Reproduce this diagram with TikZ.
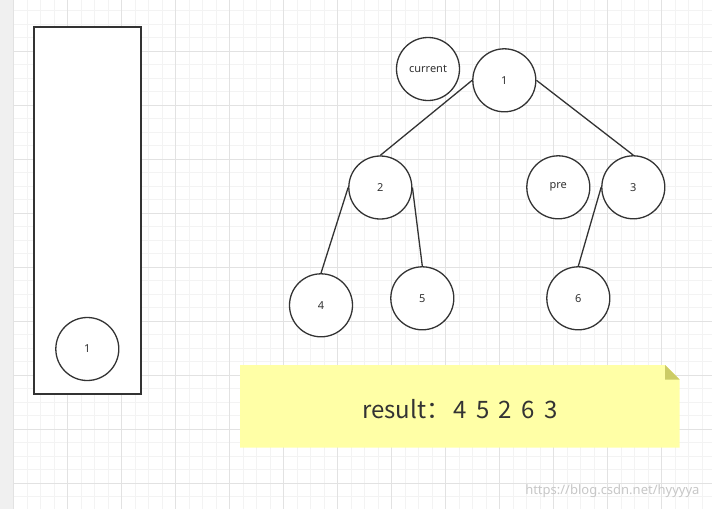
\documentclass[tikz,border=0pt]{standalone}
\usepackage{fontspec}
\setmainfont{Noto Sans}
\newfontfamily\cjk{Noto Sans CJK SC}
\definecolor{linegray}{HTML}{333333}
\definecolor{minorgrid}{HTML}{F3F3F3}
\definecolor{majorgrid}{HTML}{E2E2E2}
\definecolor{stripgray}{HTML}{F0F0F0}
\definecolor{notefill}{HTML}{FFFFA6}
\definecolor{notefold}{HTML}{CCCC66}
\newcommand{\dgap}{\hspace{9.5pt}}
\tikzset{
  tnode/.style={circle,draw=linegray,line width=1.3pt,minimum size=63pt,inner sep=0pt,
    fill=white,text=linegray,font=\fontsize{11}{13}\selectfont},
  tedge/.style={draw=linegray,line width=1.3pt},
}
\begin{document}
\begin{tikzpicture}[x=1pt,y=-1pt]
\useasboundingbox (0,0) rectangle (712,509);
\fill[white] (0,0) rectangle (712,509);
% grid
\foreach \k in {0,...,52} \draw[minorgrid,line width=0.9pt] ({13.5+13.5*\k},0)--++(0,509);
\foreach \k in {0,...,36} \draw[minorgrid,line width=0.9pt] (0,{10.5+13.5*\k})--++(712,0);
\foreach \k in {0,...,12} \draw[majorgrid,line width=0.9pt] ({13.5+54*\k},0)--++(0,509);
\foreach \k in {0,...,8} \draw[majorgrid,line width=0.9pt] (0,{51+54*\k})--++(712,0);
\fill[stripgray] (0,0) rectangle (13,509);
% stack
\draw[linegray,line width=2pt,fill=white] (33.5,27) rectangle (141,394);
\node[tnode] (s1) at (87.3,349) {1};
% tree
\node[tnode] (cur) at (428,69) {current};
\node[tnode] (n1) at (504.3,80.3) {1};
\node[tnode] (n2) at (380.3,187.5) {2};
\node[tnode] (pre) at (558.3,187.3) {pre};
\node[tnode] (n3) at (633.3,187.3) {3};
\node[tnode] (n4) at (321,305.3) {4};
\node[tnode] (n5) at (422.3,298.3) {5};
\node[tnode] (n6) at (578.3,298.3) {6};
\draw[tedge](n1.west)--(n2.north);
\draw[tedge](n1.east)--(n3.north);
\draw[tedge](n2.west)--(n4.north);
\draw[tedge](n2.east)--(n5.north);
\draw[tedge](n3.west)--(n6.north);
% note
\fill[notefill](240,365)--(665,365)--(679.5,379.5)--(679.5,447.5)--(240,447.5)--cycle;
\fill[notefold](665,365)--(665,379.5)--(679.5,379.5)--cycle;
\node[text=linegray,font=\cjk\fontsize{24}{28}\selectfont] (res) at (460,409)
  {result：\hspace{3pt}4\dgap 5\dgap 2\dgap 6\dgap 3};
\node[anchor=east,text=black!22,font=\fontsize{13}{15}\selectfont] (wm) at (703,491) {https://blog.csdn.net/hyyyya};

\end{tikzpicture}
\end{document}
